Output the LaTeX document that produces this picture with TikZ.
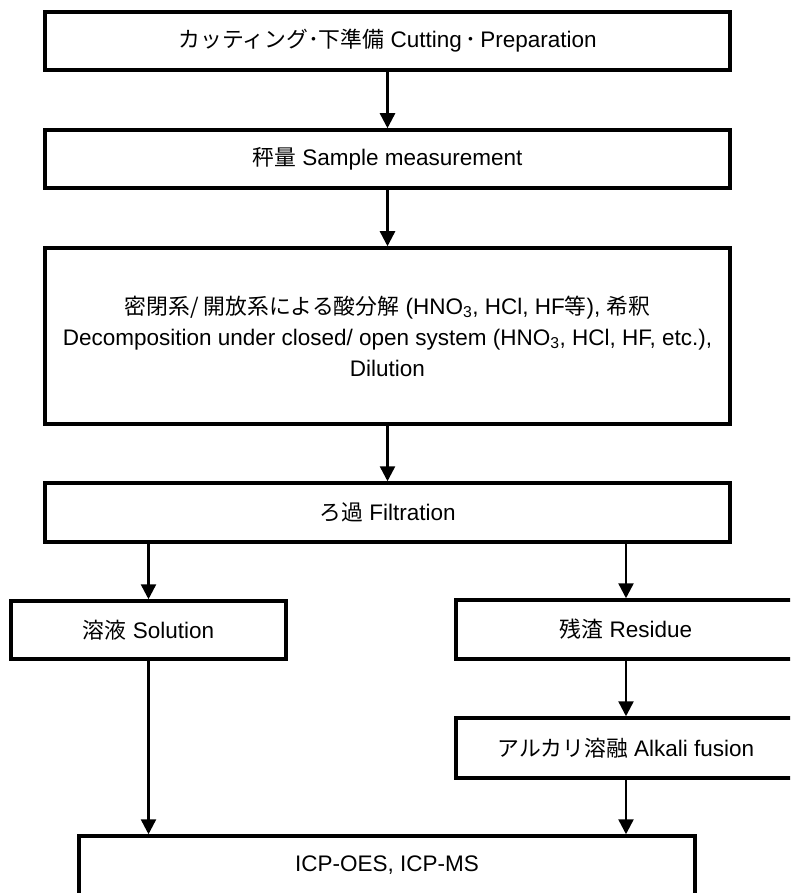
\documentclass[tikz,border=0pt]{standalone}
\usepackage{fontspec}
\setmainfont{Liberation Sans}
\newfontfamily\jp[Scale=0.97]{Noto Sans CJK JP}
\usetikzlibrary{arrows.meta}
\tikzset{
  box/.style={draw=black, line width=3.5pt, fill=white, inner sep=0pt, align=center,
    font=\fontsize{22.5}{31}\selectfont},
  arr/.style={line width=2.5pt, -{Triangle[width=15pt,length=15pt]}}
}
\begin{document}
\begin{tikzpicture}[x=1pt,y=-1pt]
\useasboundingbox (0,0) rectangle (790,893);
\clip (0,0) rectangle (790,893);
\node[box, minimum width=685pt, minimum height=58pt] (b1) at (387.5,41)
  {{\jp カッティング･下準備} Cutting\,{\jp ･}\,Preparation};
\node[box, minimum width=685pt, minimum height=58pt] (b2) at (387.5,159)
  {{\jp 秤量} Sample measurement};
\node[box, minimum width=685pt, minimum height=176pt] (b3) at (387.5,336)
  {{\jp 密閉系/ 開放系による酸分解} (HNO\textsubscript{3}, HCl, HF{\jp 等}), {\jp 希釈}\\
   Decomposition under closed/ open system (HNO\textsubscript{3}, HCl, HF, etc.),\\
   Dilution};
\node[box, minimum width=685pt, minimum height=59pt] (b4) at (387.5,512.5)
  {{\jp ろ過} Filtration};
\node[box, minimum width=275pt, minimum height=58pt] (b5) at (148.5,630)
  {{\jp 溶液} Solution};
\node[box, minimum width=340pt, minimum height=59pt] (b6) at (626,629.5)
  {{\jp 残渣} Residue};
\node[box, minimum width=340pt, minimum height=60pt] (b7) at (626,748)
  {{\jp アルカリ溶融} Alkali fusion};
\node[box, minimum width=616pt, minimum height=59pt] (b8) at (387,865.5)
  {ICP-OES, ICP-MS};
\draw[arr] (b1.south) -- (b2.north);
\draw[arr] (b2.south) -- (b3.north);
\draw[arr] (b3.south) -- (b4.north);
\draw[arr] (b4.south -| b5.north) -- (b5.north);
\draw[arr] (b4.south -| b6.north) -- (b6.north);
\draw[arr] (b6.south) -- (b7.north);
\draw[arr] (b5.south) -- (b5.south |- b8.north);
\draw[arr] (b7.south) -- (b7.south |- b8.north);
\end{tikzpicture}
\end{document}
